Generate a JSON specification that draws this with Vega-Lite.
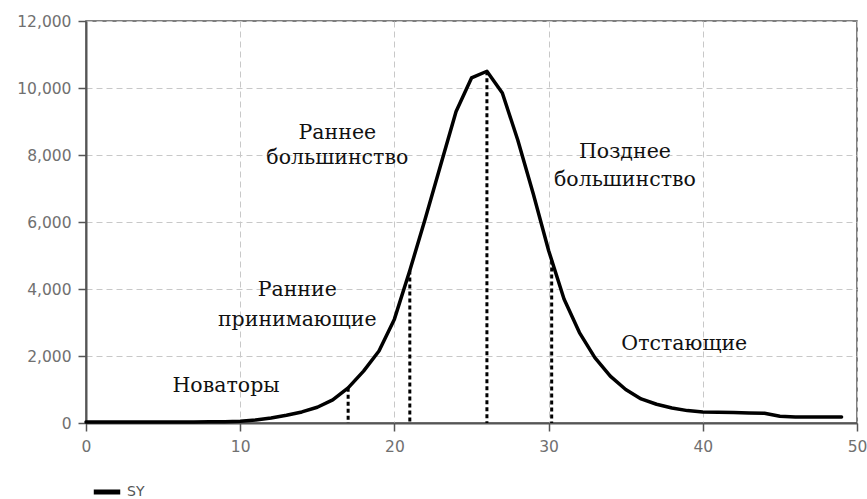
{
  "$schema": "https://vega.github.io/schema/vega-lite/v6.json",
  "width": 771,
  "height": 402,
  "autosize": {"type": "none"},
  "padding": {"left": 86, "top": 21, "right": 10, "bottom": 76},
  "background": "white",
  "config": {
    "view": {"stroke": "#555", "strokeWidth": 1.5},
    "axis": {
      "domainColor": "#555",
      "domainWidth": 2,
      "tickColor": "#555",
      "tickWidth": 1.5,
      "tickSize": 8,
      "labelColor": "#707070",
      "labelFont": "DejaVu Sans",
      "labelFontSize": 15.5,
      "gridColor": "#c8c8c8",
      "gridDash": [6, 4],
      "gridWidth": 1,
      "title": null
    }
  },
  "datasets": {
    "curve": [
      {"t": 0, "v": 30, "series": "SY"}, {"t": 1, "v": 30, "series": "SY"}, {"t": 2, "v": 30, "series": "SY"},
      {"t": 3, "v": 30, "series": "SY"}, {"t": 4, "v": 30, "series": "SY"}, {"t": 5, "v": 30, "series": "SY"},
      {"t": 6, "v": 30, "series": "SY"}, {"t": 7, "v": 30, "series": "SY"}, {"t": 8, "v": 35, "series": "SY"},
      {"t": 9, "v": 40, "series": "SY"}, {"t": 10, "v": 55, "series": "SY"}, {"t": 11, "v": 90, "series": "SY"},
      {"t": 12, "v": 150, "series": "SY"}, {"t": 13, "v": 230, "series": "SY"}, {"t": 14, "v": 330, "series": "SY"},
      {"t": 15, "v": 470, "series": "SY"}, {"t": 16, "v": 690, "series": "SY"}, {"t": 17, "v": 1050, "series": "SY"},
      {"t": 18, "v": 1550, "series": "SY"}, {"t": 19, "v": 2150, "series": "SY"}, {"t": 20, "v": 3100, "series": "SY"},
      {"t": 21, "v": 4550, "series": "SY"}, {"t": 22, "v": 6100, "series": "SY"}, {"t": 23, "v": 7700, "series": "SY"},
      {"t": 24, "v": 9300, "series": "SY"}, {"t": 25, "v": 10300, "series": "SY"}, {"t": 26, "v": 10500, "series": "SY"},
      {"t": 27, "v": 9850, "series": "SY"}, {"t": 28, "v": 8450, "series": "SY"}, {"t": 29, "v": 6850, "series": "SY"},
      {"t": 30, "v": 5150, "series": "SY"}, {"t": 31, "v": 3700, "series": "SY"}, {"t": 32, "v": 2700, "series": "SY"},
      {"t": 33, "v": 1950, "series": "SY"}, {"t": 34, "v": 1400, "series": "SY"}, {"t": 35, "v": 1000, "series": "SY"},
      {"t": 36, "v": 720, "series": "SY"}, {"t": 37, "v": 560, "series": "SY"}, {"t": 38, "v": 450, "series": "SY"},
      {"t": 39, "v": 370, "series": "SY"}, {"t": 40, "v": 330, "series": "SY"}, {"t": 41, "v": 320, "series": "SY"},
      {"t": 42, "v": 310, "series": "SY"}, {"t": 43, "v": 300, "series": "SY"}, {"t": 44, "v": 290, "series": "SY"},
      {"t": 45, "v": 200, "series": "SY"}, {"t": 46, "v": 180, "series": "SY"}, {"t": 47, "v": 180, "series": "SY"},
      {"t": 48, "v": 180, "series": "SY"}, {"t": 49, "v": 180, "series": "SY"}
    ],
    "markers": [
      {"t": 17, "v": 1050},
      {"t": 21, "v": 4550},
      {"t": 26, "v": 10500},
      {"t": 30.2, "v": 4850}
    ],
    "labels": [
      {"t": 9.08, "v": 1104, "text": "Новаторы"},
      {"t": 13.7, "v": 3970, "text": "Ранние"},
      {"t": 13.7, "v": 3075, "text": "принимающие"},
      {"t": 16.3, "v": 8657, "text": "Раннее"},
      {"t": 16.3, "v": 7910, "text": "большинство"},
      {"t": 34.95, "v": 8090, "text": "Позднее"},
      {"t": 34.95, "v": 7254, "text": "большинство"},
      {"t": 38.8, "v": 2358, "text": "Отстающие"}
    ]
  },
  "layer": [
    {
      "data": {"name": "markers"},
      "mark": {"type": "rule", "strokeDash": [4, 3], "strokeWidth": 3, "color": "black"},
      "encoding": {
        "x": {"field": "t", "type": "quantitative", "scale": {"domain": [0, 50], "nice": false},
              "axis": {"values": [0, 10, 20, 30, 40, 50], "labelFlush": false, "labelOverlap": false, "labelPadding": 8}},
        "y": {"field": "v", "type": "quantitative", "scale": {"domain": [0, 12000], "nice": false},
              "axis": {"values": [0, 2000, 4000, 6000, 8000, 10000, 12000], "format": ",d", "labelPadding": 7}},
        "y2": {"datum": 0}
      }
    },
    {
      "data": {"name": "curve"},
      "mark": {"type": "line", "strokeWidth": 3.5, "strokeJoin": "round", "strokeCap": "round"},
      "encoding": {
        "x": {"field": "t", "type": "quantitative"},
        "y": {"field": "v", "type": "quantitative"},
        "color": {
          "field": "series", "type": "nominal",
          "scale": {"range": ["#000000"]},
          "legend": {
            "title": null, "orient": "none", "legendX": 5, "legendY": 455,
            "symbolType": "stroke", "symbolSize": 700, "symbolStrokeWidth": 5,
            "labelFont": "DejaVu Sans", "labelFontSize": 14, "labelColor": "#555",
            "padding": 0, "labelOffset": 4
          }
        }
      }
    },
    {
      "data": {"name": "labels"},
      "mark": {"type": "text", "font": "DejaVu Serif", "fontSize": 20.5, "color": "#111", "align": "center", "baseline": "middle"},
      "encoding": {
        "x": {"field": "t", "type": "quantitative"},
        "y": {"field": "v", "type": "quantitative"},
        "text": {"field": "text", "type": "nominal"}
      }
    }
  ]
}
